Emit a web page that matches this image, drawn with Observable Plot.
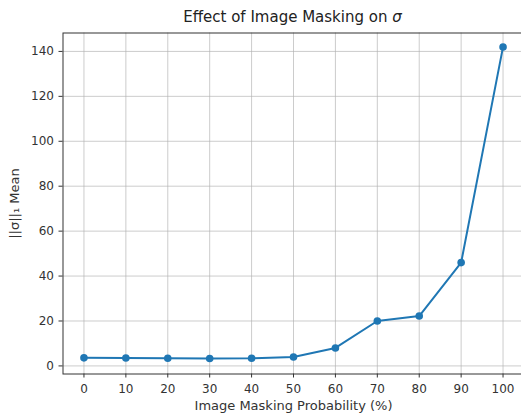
<!DOCTYPE html>
<html>
<head>
<meta charset="utf-8">
<script src="https://cdn.jsdelivr.net/npm/d3@7"></script>
<script src="https://cdn.jsdelivr.net/npm/@observablehq/plot@0.6"></script>
<style>
  html, body { margin: 0; padding: 0; background: #fff; }
  #title { height: 28px; line-height: 34px; padding-left: 62px; width: 461px; text-align: center;
           font-family: "DejaVu Sans", sans-serif; font-size: 15px; color: #222; white-space: nowrap; }
  svg g[aria-label="x-axis label"] text, svg g[aria-label="y-axis label"] text { font-size: 13px; }
</style>
</head>
<body>
<div id="title">Effect of Image Masking on <i>σ</i></div>
<div id="chart"></div>
<script>
const maskProb = [0, 10, 20, 30, 40, 50, 60, 70, 80, 90, 100];
const sigmaMean = [3.6, 3.5, 3.4, 3.3, 3.4, 4.0, 8.0, 20.0, 22.2, 46.0, 142.0];
const xTicks = [0, 10, 20, 30, 40, 50, 60, 70, 80, 90, 100];
const yTicks = [0, 20, 40, 60, 80, 100, 120, 140];

const data = maskProb.map((p, i) => ({p, v: sigmaMean[i]}));

const chart = Plot.plot({
  width: 521,
  height: 387,
  marginTop: 4.5,
  marginLeft: 62.5,
  marginRight: -2.5,
  marginBottom: 41.5,
  style: {fontFamily: "DejaVu Sans, sans-serif", fontSize: "12px", color: "#333", background: "#fff"},
  x: {domain: [-5, 105]},
  y: {domain: [-3.6, 148.2]},
  marks: [
    Plot.gridX(xTicks, {stroke: "#b0b0b0", strokeOpacity: 0.65, strokeWidth: 1}),
    Plot.gridY(yTicks, {stroke: "#b0b0b0", strokeOpacity: 0.65, strokeWidth: 1}),
    Plot.axisX(xTicks, {tickSize: 4, tickPadding: 6, stroke: "#333", fill: "#333",
      label: "Image Masking Probability (%)", labelAnchor: "center", labelArrow: "none", labelOffset: 36}),
    Plot.axisY(yTicks, {tickSize: 4, tickPadding: 5, stroke: "#333", fill: "#333",
      label: "||σ||₁ Mean", labelAnchor: "center", labelArrow: "none", labelOffset: 53}),
    Plot.frame({stroke: "#333", strokeWidth: 1}),
    Plot.line(data, {x: "p", y: "v", stroke: "#1f77b4", strokeWidth: 2}),
    Plot.dot(data, {x: "p", y: "v", fill: "#1f77b4", r: 3.8})
  ]
});
document.getElementById("chart").appendChild(chart);
</script>
</body>
</html>
